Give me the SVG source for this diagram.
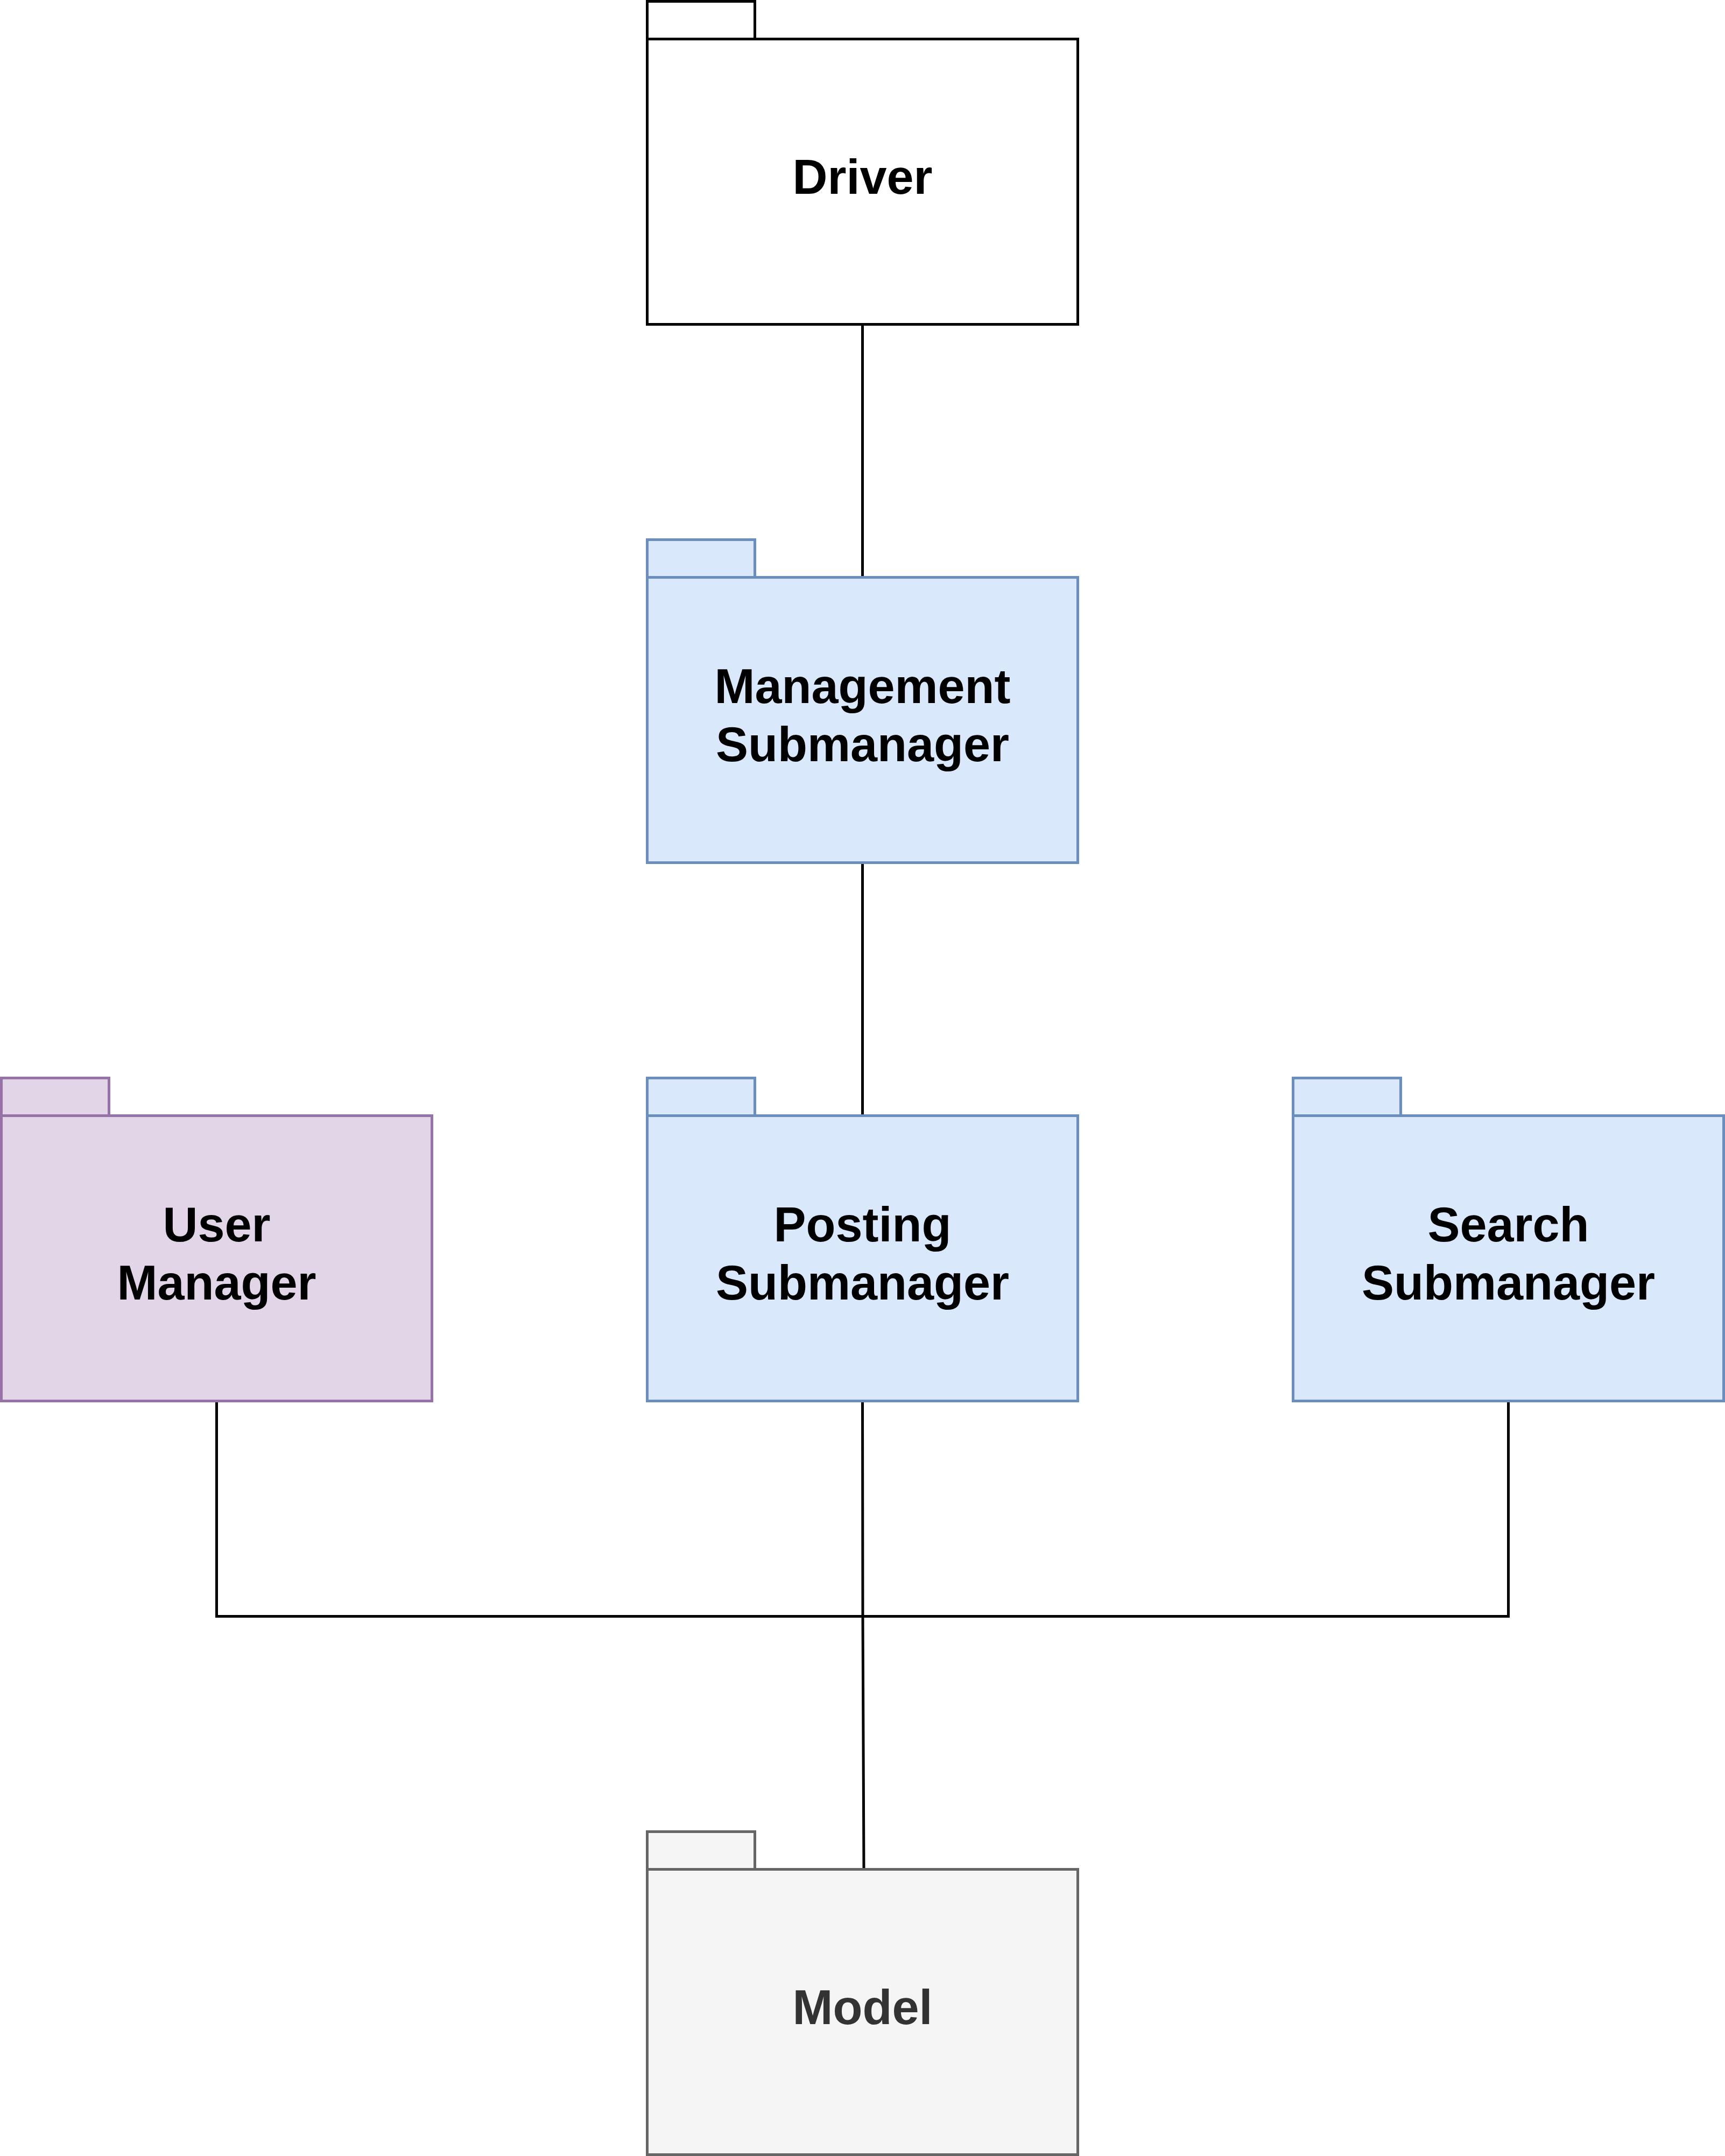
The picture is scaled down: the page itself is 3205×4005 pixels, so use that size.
<svg xmlns="http://www.w3.org/2000/svg" width="3205" height="4005" viewBox="0 0 3205 4005">
<style>
.lbl{font-family:"Liberation Sans",Arial,Helvetica,sans-serif;font-weight:bold;font-size:90px;text-anchor:middle;fill:#000}
.plain rect{fill:#ffffff;stroke:#000000;stroke-width:5}
.blue rect{fill:#dae8fc;stroke:#6c8ebf;stroke-width:5}
.purple rect{fill:#e1d5e7;stroke:#9673a6;stroke-width:5}
.grey rect{fill:#f5f5f5;stroke:#666666;stroke-width:5}
.grey text{fill:#333333}
.conn{fill:none;stroke:#000000;stroke-width:5}
</style>
<rect x="0" y="0" width="3205" height="4005" fill="#ffffff"/>
<g id="connectors">
<path class="conn" d="M1602.5 602.5 V1075"/>
<path class="conn" d="M1602.5 1602.5 V2075"/>
<path class="conn" d="M402.5 2602.5 V3002.5 H2802.5 V2602.5"/>
<path class="conn" d="M1602.5 2602.5 L1603 3002.5 L1605 3475"/>
</g>
<g id="driver" class="plain">
<rect x="1202.5" y="2.5" width="200" height="70"/>
<rect x="1202.5" y="72.5" width="800" height="530"/>
<text class="lbl" x="1602.5" y="360">Driver</text>
</g>
<g id="management" class="blue">
<rect x="1202.5" y="1002.5" width="200" height="70"/>
<rect x="1202.5" y="1072.5" width="800" height="530"/>
<text class="lbl" x="1602.5" y="1306">Management</text>
<text class="lbl" x="1602.5" y="1414">Submanager</text>
</g>
<g id="user" class="purple">
<rect x="2.5" y="2002.5" width="200" height="70"/>
<rect x="2.5" y="2072.5" width="800" height="530"/>
<text class="lbl" x="402.5" y="2306">User</text>
<text class="lbl" x="402.5" y="2414">Manager</text>
</g>
<g id="posting" class="blue">
<rect x="1202.5" y="2002.5" width="200" height="70"/>
<rect x="1202.5" y="2072.5" width="800" height="530"/>
<text class="lbl" x="1602.5" y="2306">Posting</text>
<text class="lbl" x="1602.5" y="2414">Submanager</text>
</g>
<g id="search" class="blue">
<rect x="2402.5" y="2002.5" width="200" height="70"/>
<rect x="2402.5" y="2072.5" width="800" height="530"/>
<text class="lbl" x="2802.5" y="2306">Search</text>
<text class="lbl" x="2802.5" y="2414">Submanager</text>
</g>
<g id="model" class="grey">
<rect x="1202.5" y="3402.5" width="200" height="70"/>
<rect x="1202.5" y="3472.5" width="800" height="530"/>
<text class="lbl" x="1602.5" y="3760">Model</text>
</g>
</svg>
